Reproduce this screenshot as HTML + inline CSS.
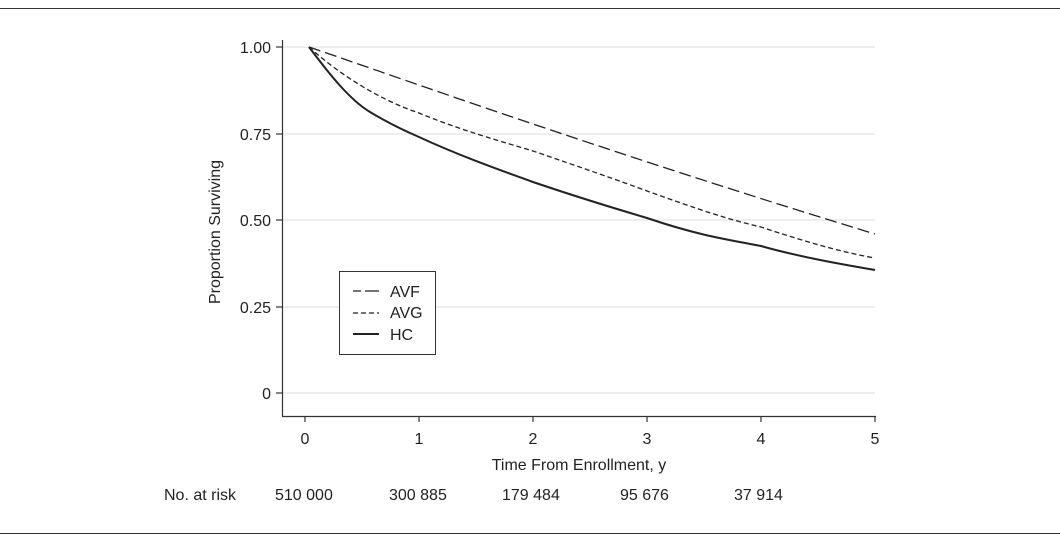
<!DOCTYPE html>
<html><head><style>
body{margin:0;background:#fff;}
svg text{font-family:"Liberation Sans",sans-serif;fill:#222;}
</style></head><body>
<svg width="1060" height="548" xmlns="http://www.w3.org/2000/svg">
<line x1="0" y1="8.5" x2="1060" y2="8.5" stroke="#333" stroke-width="1"/>
<line x1="0" y1="533.5" x2="1060" y2="533.5" stroke="#333" stroke-width="1"/>
<g stroke="#ddd" stroke-width="1">
<line x1="282" y1="47" x2="875" y2="47"/><line x1="282" y1="134" x2="875" y2="134"/>
<line x1="282" y1="220" x2="875" y2="220"/><line x1="282" y1="307" x2="875" y2="307"/>
<line x1="282" y1="393" x2="875" y2="393"/>
</g>
<g stroke="#333" stroke-width="1.2" fill="none">
<line x1="282.5" y1="40" x2="282.5" y2="416.5"/><line x1="282" y1="416.5" x2="876" y2="416.5"/>
<line x1="276" y1="47" x2="282" y2="47"/><line x1="276" y1="134" x2="282" y2="134"/>
<line x1="276" y1="220" x2="282" y2="220"/><line x1="276" y1="307" x2="282" y2="307"/>
<line x1="276" y1="393" x2="282" y2="393"/>
<line x1="305" y1="416" x2="305" y2="422"/><line x1="419" y1="416" x2="419" y2="422"/>
<line x1="533" y1="416" x2="533" y2="422"/><line x1="647" y1="416" x2="647" y2="422"/>
<line x1="761" y1="416" x2="761" y2="422"/><line x1="875" y1="416" x2="875" y2="422"/>
</g>
<g font-size="16" text-anchor="end">
<text x="271" y="53">1.00</text><text x="271" y="140">0.75</text><text x="271" y="226">0.50</text>
<text x="271" y="313">0.25</text><text x="271" y="399">0</text>
</g>
<g font-size="16" text-anchor="middle">
<text x="305" y="444">0</text><text x="419" y="444">1</text><text x="533" y="444">2</text>
<text x="647" y="444">3</text><text x="761" y="444">4</text><text x="875" y="444">5</text>
<text x="579" y="470">Time From Enrollment, y</text>
<text transform="translate(220,232) rotate(-90)">Proportion Surviving</text>
</g>
<g font-size="16">
<text x="164" y="500">No. at risk</text>
<text x="275" y="500">510 000</text><text x="389" y="500">300 885</text>
<text x="502" y="500">179 484</text><text x="620" y="500">95 676</text><text x="734" y="500">37 914</text>
</g>
<g fill="none" stroke="#222">
<path d="M309,47 C400,78 600,150 875,234" stroke-width="1.3" stroke-dasharray="12,5"/>
<path d="M309,47 C340,75 380,100 419,113 C460,130 500,141 533,151 C580,167 620,181 647,191 C700,210 730,220 761,227 C800,240 840,252 875,258" stroke-width="1.3" stroke-dasharray="5,3"/>
<path d="M309,47 C330,75 350,100 370,112 C390,124 405,131 419,137 C460,156 500,170 533,182 C580,198 620,210 647,218 C700,236 730,240 761,246 C800,257 840,264 875,270" stroke-width="2"/>
</g>
<rect x="339.5" y="271.5" width="96" height="83" fill="#fff" stroke="#333" stroke-width="1"/>
<g stroke="#222" fill="none">
<path d="M353,291 H361 M365,291 H379" stroke-width="1.3"/>
<path d="M353,313 H379" stroke-width="1.3" stroke-dasharray="5,3"/>
<path d="M353,334 H379" stroke-width="2"/>
</g>
<g font-size="16"><text x="390" y="297">AVF</text><text x="390" y="318">AVG</text><text x="390" y="340">HC</text></g>
</svg>
</body></html>
